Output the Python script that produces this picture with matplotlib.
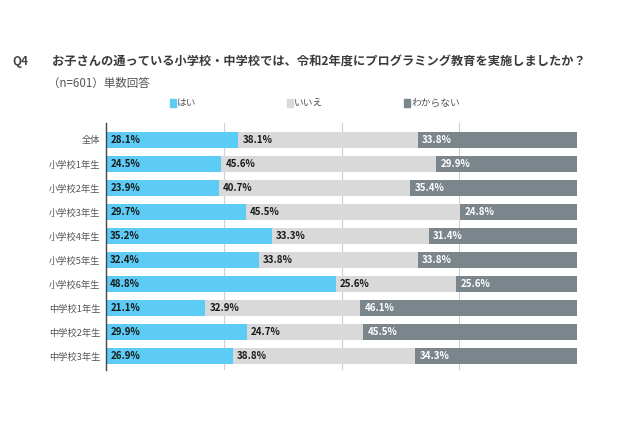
import matplotlib.pyplot as plt
import numpy as np

plt.rcParams['font.family'] = ['Noto Sans CJK JP', 'DejaVu Sans']

categories = ['全体', '小学校1年生', '小学校2年生', '小学校3年生', '小学校4年生',
              '小学校5年生', '小学校6年生', '中学校1年生', '中学校2年生', '中学校3年生']
hai = [28.1, 24.5, 23.9, 29.7, 35.2, 32.4, 48.8, 21.1, 29.9, 26.9]
iie = [38.1, 45.6, 40.7, 45.5, 33.3, 33.8, 25.6, 32.9, 24.7, 38.8]
wakaranai = [33.8, 29.9, 35.4, 24.8, 31.4, 33.8, 25.6, 46.1, 45.5, 34.3]
series_names = ['はい', 'いいえ', 'わからない']

colors = ['#5ccbf5', '#d9d9d9', '#7b868c']
text_colors = ['#1a1a1a', '#1a1a1a', 'white']

fig = plt.figure(figsize=(6.4, 4.26), dpi=100)
ax = fig.add_axes([0.1656, 0.1315, 0.736, 0.580])

y = np.arange(len(categories))
left = np.zeros(len(categories))
for vals, col, tcol in zip([hai, iie, wakaranai], colors, text_colors):
    vals = np.array(vals)
    ax.barh(y, vals, left=left, height=0.63, color=col, zorder=2)
    for yi, l, v in zip(y, left, vals):
        ax.text(l + 0.9, yi, f'{v:.1f}%', va='center', ha='left',
                fontsize=7, fontweight='bold', color=tcol, zorder=3)
    left = left + vals

ax.set_xlim(0, 100)
ax.set_ylim(9.58, -0.71)
ax.set_yticks(y)
ax.set_yticklabels(categories, fontsize=6.7, color='#555555')
ax.set_xticks([25, 50, 75, 100])
ax.set_xticklabels([])
ax.tick_params(axis='both', length=0, pad=4)
ax.grid(axis='x', color='#d0d0d0', linewidth=0.8, zorder=0)
for s in ['top', 'right', 'bottom']:
    ax.spines[s].set_visible(False)
ax.spines['left'].set_color('#444444')
ax.spines['left'].set_linewidth(1.0)

# titles
fig.text(12 / 640, 1 - 62 / 426, 'Q4', fontsize=8.5, fontweight='bold',
         color='#444444', va='center')
fig.text(52 / 640, 1 - 62 / 426,
         'お子さんの通っている小学校・中学校では、令和2年度にプログラミング教育を実施しましたか？',
         fontsize=8.8, fontweight='bold', color='#3a3a3a', va='center')
fig.text(48 / 640, 1 - 83 / 426, '（n=601）単数回答', fontsize=8.3,
         color='#555555', va='center')

# legend
leg_x = [170, 287, 404]
for lx, name, col in zip(leg_x, series_names, colors):
    fig.patches.append(plt.Rectangle((lx / 640, 1 - 107 / 426), 6 / 640, 8 / 426,
                                     transform=fig.transFigure, color=col))
    fig.text((lx + 7) / 640, 1 - 103 / 426, name, fontsize=7,
             color='#555555', va='center')

fig.savefig('out.png', dpi=100)
